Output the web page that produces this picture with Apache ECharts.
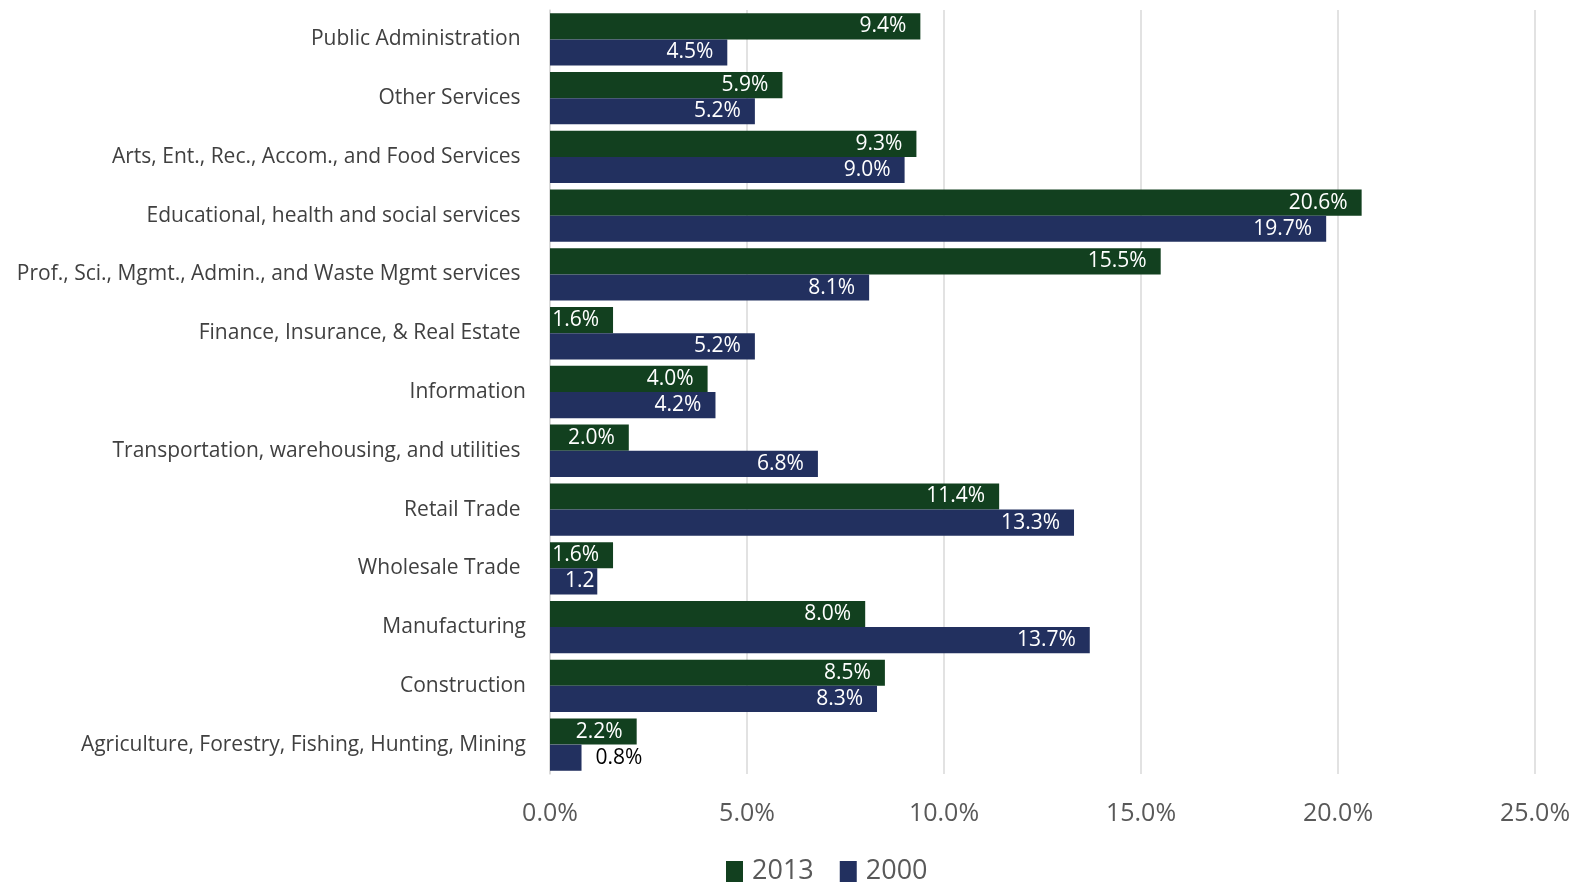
<!DOCTYPE html>
<html>
<head>
<meta charset="utf-8">
<script src="https://cdn.jsdelivr.net/npm/echarts@6/dist/echarts.min.js"></script>
<style>
  html, body { margin: 0; padding: 0; background: #fff; }
  #chart { width: 1581px; height: 882px; }
</style>
</head>
<body>
<div id="chart"></div>
<script>
// bottom to top, as the category axis draws them
const categories = [
  'Agriculture, Forestry, Fishing, Hunting, Mining',
  'Construction',
  'Manufacturing',
  'Wholesale Trade ',
  'Retail Trade ',
  'Transportation, warehousing, and utilities ',
  'Information',
  'Finance, Insurance, & Real Estate ',
  'Prof., Sci., Mgmt., Admin., and Waste Mgmt services ',
  'Educational, health and social services ',
  'Arts, Ent., Rec., Accom., and Food Services ',
  'Other Services ',
  'Public Administration '
]
const values2013 = [2.2, 8.5, 8.0, 1.6, 11.4, 2.0, 4.0, 1.6, 15.5, 20.6, 9.3, 5.9, 9.4]
const values2000 = [0.8, 8.3, 13.7, 1.2, 13.3, 6.8, 4.2, 5.2, 8.1, 19.7, 9.0, 5.2, 4.5]
const seriesNames = ['2013', '2000']

const green = '#12401f'
const navy = '#22305f'
const font = 'Open Sans'

const chart = echarts.init(document.getElementById('chart'))

const barLabel = {
  show: true,
  position: 'insideRight',
  distance: 14,
  color: '#fff',
  fontFamily: font,
  fontSize: 21,
  formatter: p => p.value.toFixed(1) + '%'
}

// Excel put 0.8 outside the bar and clipped 1.2 at the bar end
const data2000 = values2000.map(v => {
  if (v < 1) return { value: v, label: { position: 'right', color: '#000', distance: 14 } }
  if (v < 1.5) {
    return {
      value: v,
      label: { position: 'insideLeft', distance: 15, width: 40, overflow: 'truncate', ellipsis: '' }
    }
  }
  return v
})

chart.setOption({
  animation: false,
  grid: { left: 550, right: 46, top: 10, bottom: 108 },
  legend: {
    data: seriesNames,
    top: 853,
    left: 721,
    itemWidth: 17,
    itemHeight: 21,
    itemGap: 26,
    icon: 'rect',
    textStyle: { fontFamily: font, fontSize: 27, color: '#595959', padding: [0, 0, 0, 4] }
  },
  xAxis: {
    type: 'value',
    min: 0,
    max: 25,
    interval: 5,
    axisLabel: {
      margin: 27,
      fontFamily: font,
      fontSize: 25,
      color: '#595959',
      formatter: v => v.toFixed(1) + '%'
    },
    splitLine: { lineStyle: { color: '#d9d9d9', width: 1.5 } },
    axisLine: { show: false },
    axisTick: { show: false }
  },
  yAxis: {
    type: 'category',
    data: categories,
    axisLabel: {
      margin: 24,
      fontFamily: font,
      fontSize: 21,
      color: '#404040'
    },
    axisLine: { lineStyle: { color: '#d9d9d9', width: 1.5 } },
    axisTick: { show: false }
  },
  series: [
    {
      name: '2013',
      type: 'bar',
      data: values2013,
      barGap: '0%',
      barCategoryGap: '11%',
      itemStyle: { color: green },
      label: barLabel
    },
    {
      name: '2000',
      type: 'bar',
      data: data2000,
      itemStyle: { color: navy },
      label: barLabel
    }
  ]
})
</script>
</body>
</html>
